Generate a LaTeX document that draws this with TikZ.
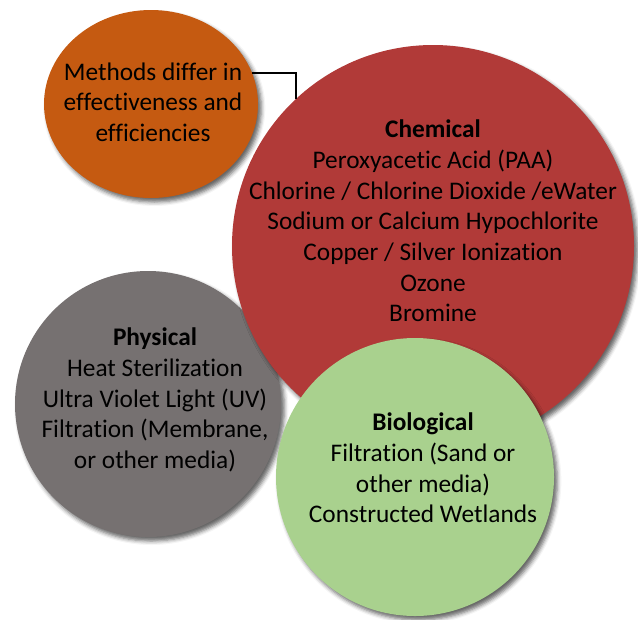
\documentclass[tikz,border=0pt]{standalone}
\usepackage{fontspec}
\setmainfont[Ligatures=NoCommon]{Carlito}
\usetikzlibrary{shapes.geometric,shadows.blur}
\definecolor{methodorange}{RGB}{197,90,17}
\definecolor{chemred}{RGB}{177,58,56}
\definecolor{physgray}{RGB}{118,113,113}
\definecolor{biogreen}{RGB}{169,209,142}

\begin{document}
\begin{tikzpicture}[x=0.75pt,y=-0.75pt,
    bubble/.style={circle,inner sep=0pt,
        blur shadow={shadow xshift=2.5pt,shadow yshift=-3pt,shadow blur radius=3pt,shadow opacity=60}},
    bubbletext/.style={align=center,font=\fontsize{19}{23}\selectfont,inner sep=0pt}]
\useasboundingbox (0,0) rectangle (638,619);

\node[ellipse,inner sep=0pt,fill=methodorange,minimum width=160.5pt,minimum height=141pt,
    blur shadow={shadow xshift=2.5pt,shadow yshift=-3pt,shadow blur radius=3pt,shadow opacity=60}]
    (orange) at (151,104) {};
\node[bubble,fill=physgray,minimum size=199.5pt] (phys) at (148,404) {};
\node[bubble,fill=chemred,minimum size=301.5pt] (chem) at (433,246) {};
\node[bubble,fill=biogreen,minimum size=208.5pt] (bio) at (415,477) {};

\draw[line width=1.5pt] (orange.17.6) -| (chem.133.4);

\node[bubbletext] (orangetxt) at (153,102) {Methods differ in\\effectiveness and\\efficiencies};
\node[bubbletext] (chemtxt) at (433,221) {\textbf{Chemical}\\Peroxyacetic Acid (PAA)\\Chlorine / Chlorine Dioxide /eWater\\Sodium or Calcium Hypochlorite\\Copper / Silver Ionization\\Ozone\\Bromine};
\node[bubbletext] (phystxt) at (155,400) {\textbf{Physical}\\Heat Sterilization\\Ultra Violet Light (UV)\\Filtration (Membrane,\\or other media)};
\node[bubbletext] (biotxt) at (423,468) {\textbf{Biological}\\Filtration (Sand or\\other media)\\Constructed Wetlands};
\end{tikzpicture}
\end{document}
